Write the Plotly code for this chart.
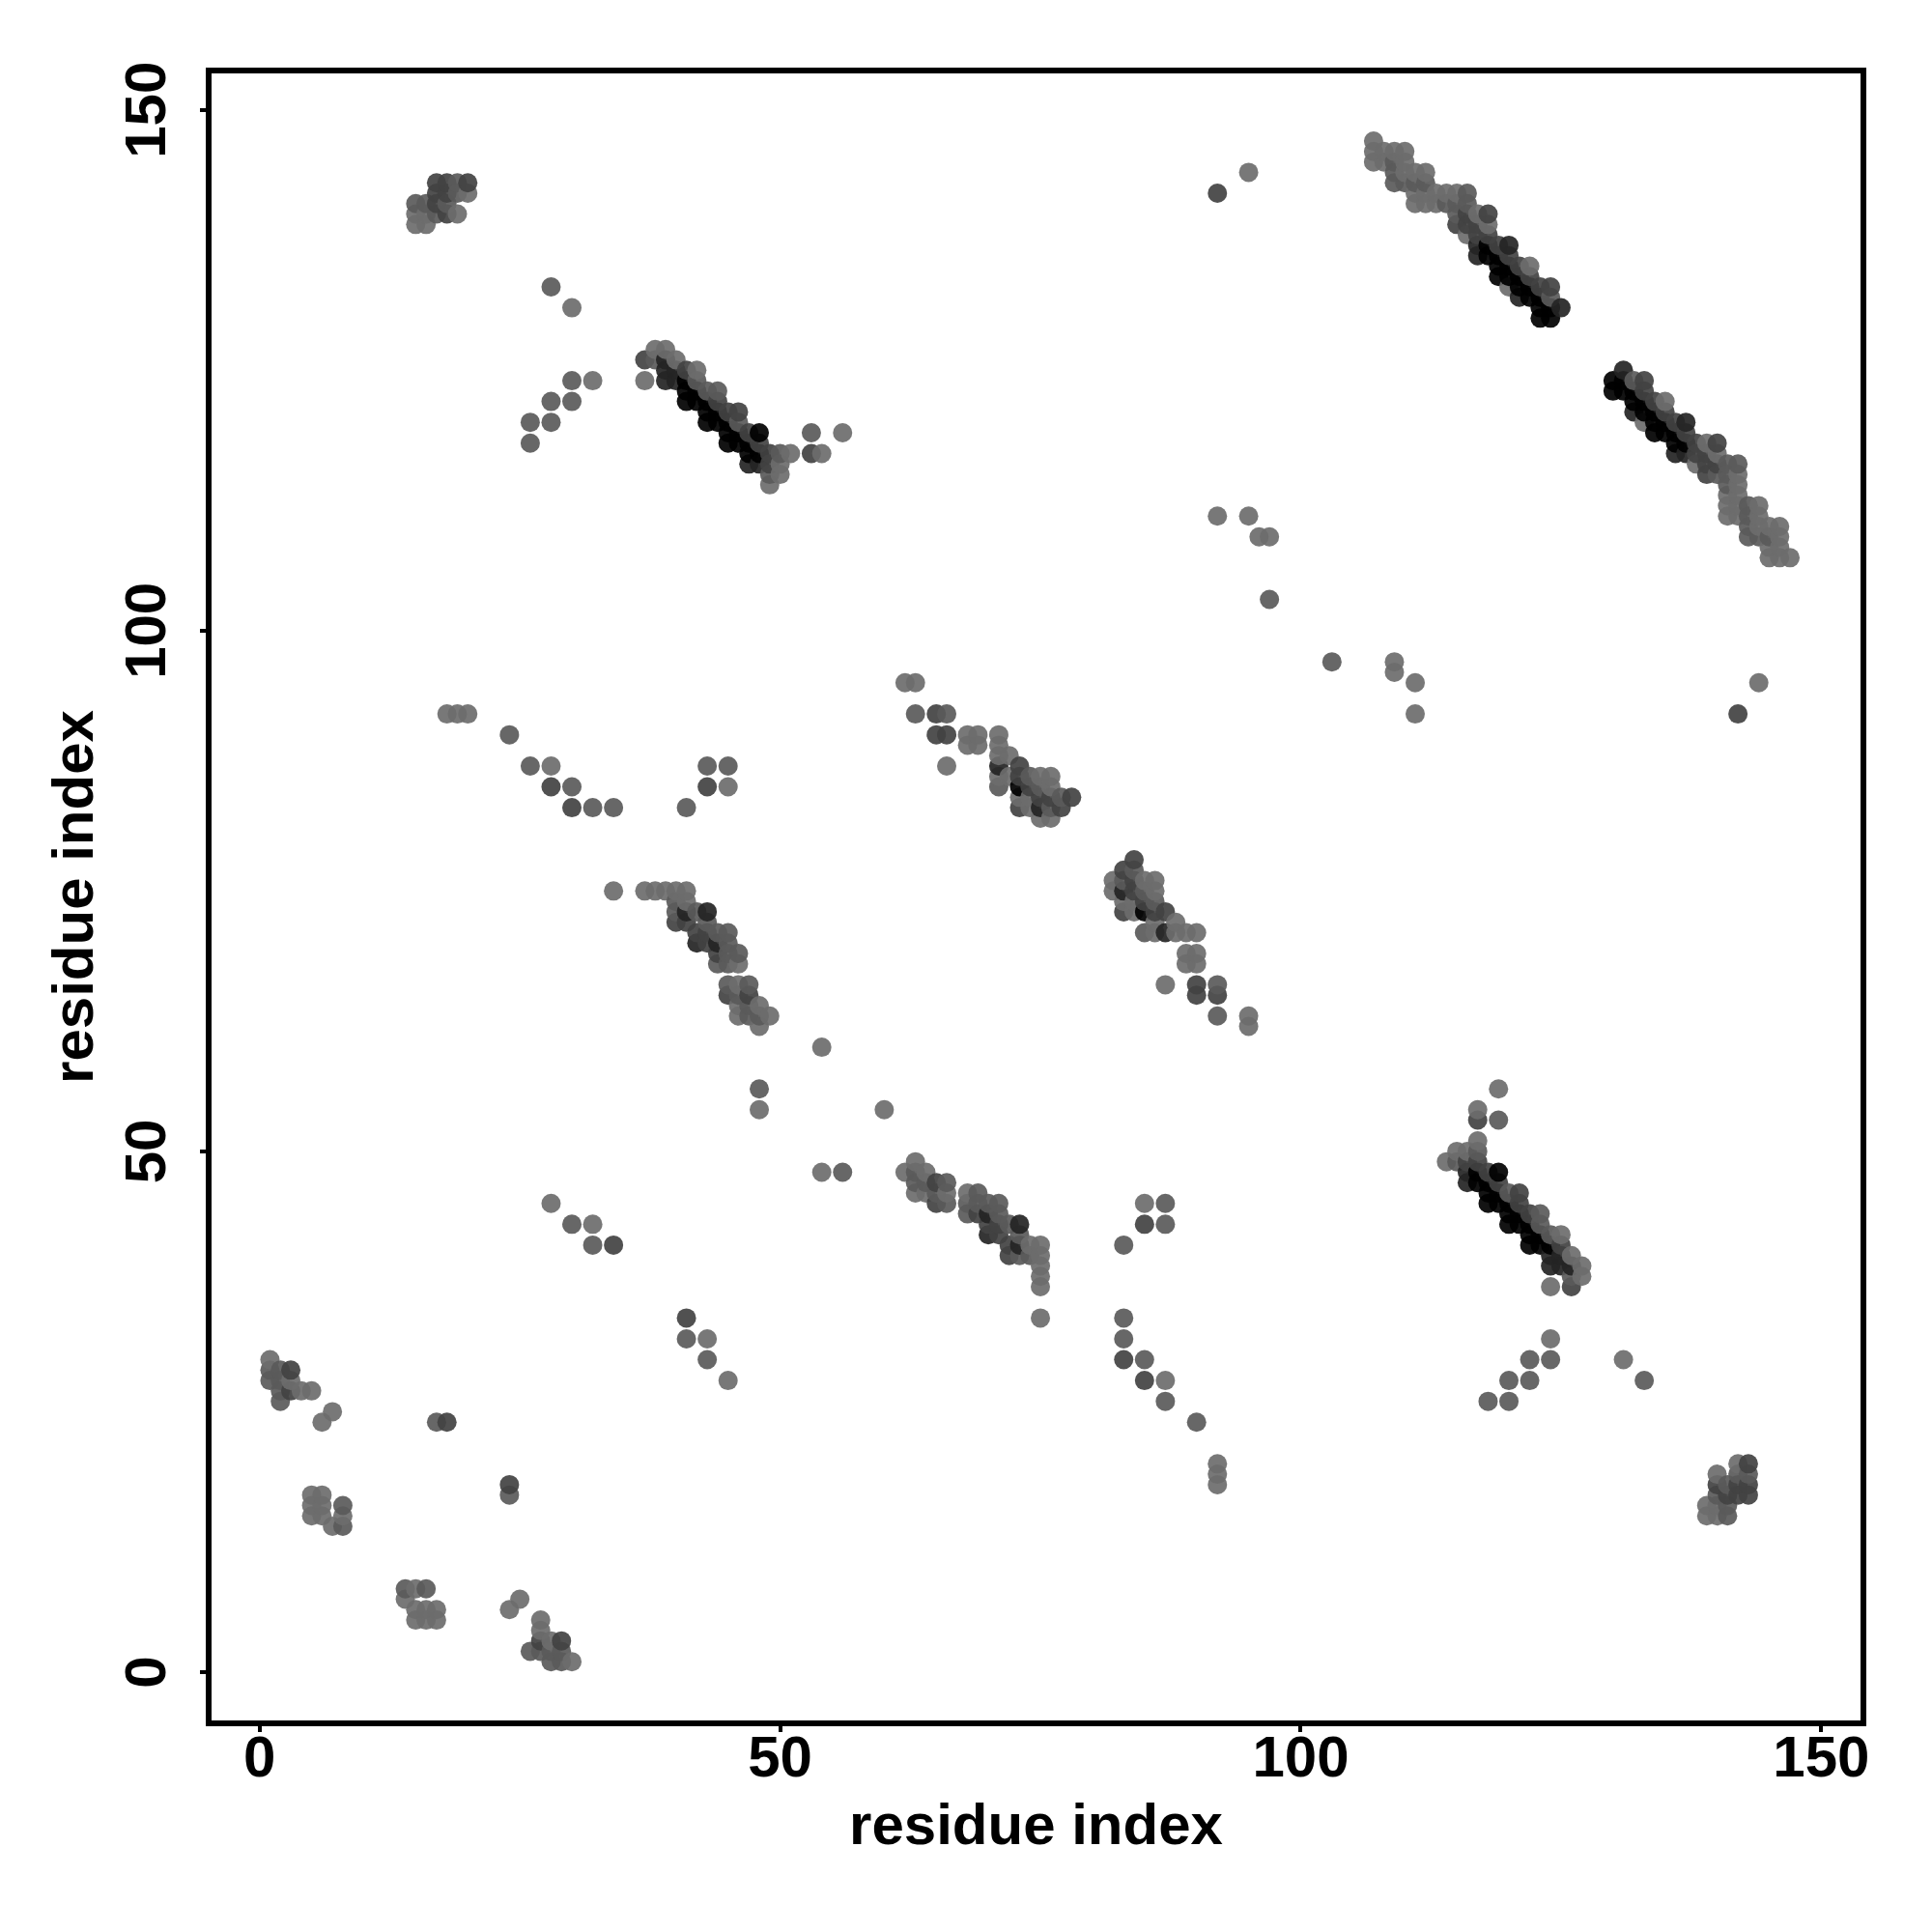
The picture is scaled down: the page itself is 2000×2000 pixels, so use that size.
import numpy as np
import plotly.graph_objects as go

# grey levels
L, M, D, V, K = 108, 90, 66, 36, 0

corner_a = [(1,30,L),(1,29,M),(1,28,M),(2,29,M),(2,28,M),(2,27,M),(2,26,M),(3,29,D),(3,28,L),(3,27,D),(4,27,L),(5,27,L),(6,24,L),(7,25,L)]
corner_b = [(5,17,L),(6,17,L),(5,16,L),(6,16,L),(5,15,L),(6,15,L),(7,14,L),(8,14,M),(8,15,L),(8,16,M)]
corner_c = [(17,24,M),(18,24,D)]
top_left = [(15,141,M),(16,141,M),(17,141,D),(18,141,M),(15,139,L),(16,139,L),(15,140,L),(16,140,L),(17,140,M),(18,140,D),(19,140,L),
            (17,142,D),(18,142,D),(19,142,M),(20,142,L),(17,143,D),(18,143,D),(19,143,M),(20,143,D)]
main_a = [(37,126,D),(37,124,L),(38,127,L),(39,127,L),(38,126,M),(40,126,L),(39,126,V),(39,125,V),(39,124,V),(40,125,V),(40,124,V),
          (41,125,D),(42,125,L),(41,124,K),(41,123,K),(41,122,K),(42,124,M),(42,123,K),(42,122,K),(43,123,M),(44,123,M),
          (43,122,K),(43,121,K),(43,120,K),(44,122,D),(44,121,K),(44,120,K),(45,121,D),(46,121,D),(46,120,M),(45,120,K),(45,119,K),(45,118,K),
          (46,119,K),(46,118,K),(47,119,D),(48,119,K),(47,118,K),(47,117,K),(47,116,V),(48,118,D),(48,117,K),(48,116,V),
          (49,117,D),(49,116,D),(49,115,M),(49,114,L),(50,117,M),(50,116,L),(50,115,L),(51,117,L),(53,119,M),(56,119,L),(53,117,D),(54,117,L)]
main_b = [(107,147,L),(107,146,L),(107,145,L),(108,146,L),(109,146,L),(110,146,L),(108,145,L),(109,145,M),(110,145,L),
          (109,144,M),(109,143,M),(110,144,L),(110,143,M),(111,144,L),(112,144,L),(111,143,M),(111,142,L),(111,141,L),(112,143,M),(112,142,L),(112,141,L),
          (113,142,L),(113,141,L),(114,142,L),(115,142,L),(116,142,M),(114,141,M),(115,141,M),(116,141,M),(115,140,M),(115,139,D),
          (116,140,D),(116,139,D),(117,140,L),(117,139,D),(116,138,L),(118,140,D),(118,139,L),(118,138,D),(117,138,D),(117,137,V),(117,136,V),
          (118,137,K),(118,136,K),(119,137,D),(120,137,V),(119,136,K),(119,135,K),(119,134,K),(120,136,D),(120,135,K),(120,134,K),
          (121,135,D),(122,135,L),(121,134,K),(121,133,K),(121,132,V),(120,133,L),(122,134,D),(122,133,K),(122,132,K),(123,133,D),(124,133,D),
          (124,132,M),(123,132,K),(123,131,K),(123,130,K),(124,131,K),(124,130,K),(125,131,V)]
band_a = [(34,75,L),(37,75,L),(38,75,L),(39,75,L),(40,75,L),(41,75,L),(40,74,M),(41,74,L),(40,73,M),(40,72,D),(41,73,V),(41,72,D),(42,73,M),(43,73,V),(43,72,M),
          (42,71,D),(42,70,V),(43,71,D),(43,70,D),(44,71,M),(45,71,M),(44,70,V),(44,69,D),(44,68,M),(45,70,M),(45,69,M),(45,68,M),(46,69,M),(46,68,L),
          (45,66,M),(46,66,L),(47,66,M),(45,65,D),(46,65,M),(47,65,D),(46,64,L),(46,63,L),(47,64,M),(47,63,M),(48,64,L),(48,63,M),(48,62,L),(49,63,L)]
band_b = [(62,95,L),(63,95,L),(63,92,M),(65,92,D),(66,92,M),(65,90,D),(66,90,D),(66,87,L),(68,90,L),(69,90,L),(68,89,L),(69,89,L),
          (71,90,L),(71,89,L),(71,88,L),(72,88,L),(71,87,V),(71,86,L),(71,85,M),(72,86,L),(73,87,D),(73,86,D),(73,85,K),(73,84,L),(73,83,D),
          (74,86,M),(74,85,D),(74,84,L),(74,83,L),(75,86,L),(76,86,L),(75,85,M),(75,84,D),(75,83,V),(75,82,L),(76,85,L),(76,84,D),(76,83,M),(76,82,L),
          (77,84,M),(77,83,D),(78,84,D)]
scatter_a = [(28,133,M),(30,131,L),(26,120,M),(28,120,M),(28,122,M),(30,122,M),(30,124,M),(32,124,L),(26,118,M)]
scatter_b = [(18,92,L),(19,92,L),(20,92,L),(24,90,M),(26,87,M),(28,87,L),(28,85,D),(30,85,M),(30,83,D),(32,83,M),(34,83,M),
             (41,83,M),(43,87,M),(45,87,M),(43,85,D),(45,85,L)]
scatter_c = [(28,45,L),(30,43,M),(32,43,L),(32,41,M),(34,41,D),(48,56,M),(48,54,L),(54,60,L),(92,142,D),(95,144,L),
             (92,111,L),(95,111,L),(96,109,L),(97,109,L),(97,103,M)]

contacts = (corner_a + corner_b + corner_c + top_left + main_a + main_b + band_a + band_b
            + scatter_a + scatter_b + scatter_c)
res_i = np.array([c[0] for c in contacts])
res_j = np.array([c[1] for c in contacts])
grey = np.array([c[2] for c in contacts])

# the map is symmetric about the diagonal
xs = np.concatenate([res_i, res_j])
ys = np.concatenate([res_j, res_i])
gs = np.concatenate([grey, grey])
order = np.lexsort((ys, xs))
xs, ys, gs = xs[order], ys[order], gs[order]
colors = [f"rgb({g},{g},{g})" for g in gs]

tick_vals = [0, 50, 100, 150]
font = dict(family="Liberation Sans", size=60, color="black", weight="bold")

fig = go.Figure(go.Scatter(
    x=xs, y=ys, mode="markers",
    marker=dict(size=20, color=colors, opacity=0.92, line=dict(width=0)),
    hoverinfo="skip",
))
axis = dict(
    showgrid=False, zeroline=False, showline=True, mirror=True, linecolor="black", linewidth=6,
    ticks="outside", ticklen=6, tickwidth=4, tickcolor="black", tickvals=tick_vals,
    tickfont=font,
)
fig.update_layout(
    width=2000, height=2000, autosize=False, showlegend=False,
    paper_bgcolor="white", plot_bgcolor="white",
    margin=dict(l=211, r=82, t=68, b=227, pad=0),
    xaxis=dict(axis, range=[-4.61, 153.77], ticklabelstandoff=-26,
               title=dict(text="residue index", font=font, standoff=18)),
    yaxis=dict(axis, range=[-4.64, 153.5], tickangle=-90, ticklabelstandoff=12, ticklabelshift=9,
               title=dict(text="residue index", font=font, standoff=3)),
)
fig.write_html("out.html")
